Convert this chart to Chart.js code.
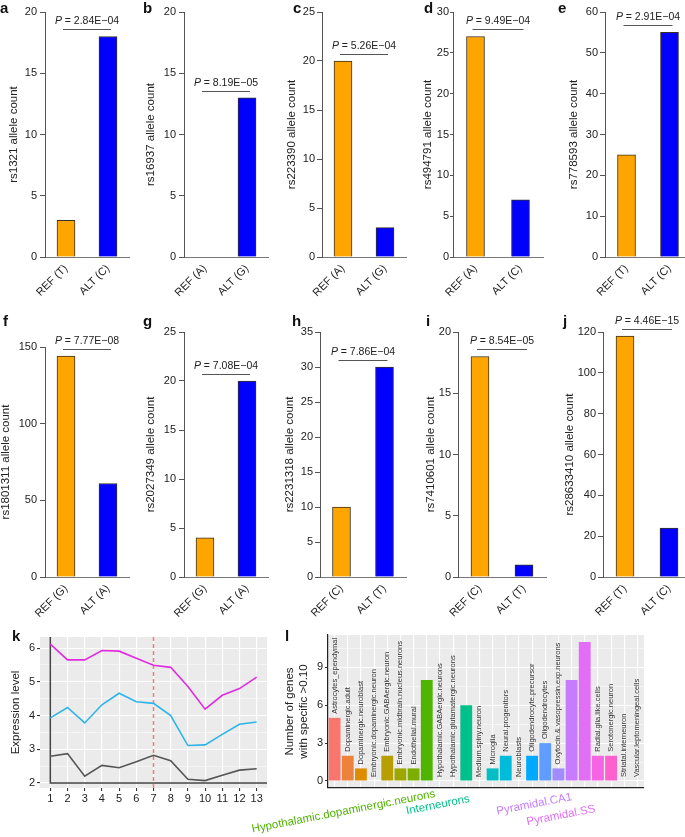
<!DOCTYPE html>
<html>
<head>
<meta charset="utf-8">
<script src="https://cdn.jsdelivr.net/npm/chart.js@4.4.1/dist/chart.umd.min.js"></script>
<style>
  html, body { margin: 0; padding: 0; background: #fff; overflow: hidden; width: 685px; height: 837px; }
  body { position: relative; }
  canvas { position: absolute; }
  .lt { position: absolute; font: bold 15px 'Liberation Sans', Arial, sans-serif; line-height: 15px; color: #111; }
</style>
</head>
<body>
<script>
// ---- data: panels a-j (allele counts) ----
const snpIds = ['rs1321', 'rs16937', 'rs223390', 'rs494791', 'rs778593',
                'rs1801311', 'rs2027349', 'rs2231318', 'rs7410601', 'rs28633410'];
const refLabels = ['REF (T)', 'REF (A)', 'REF (A)', 'REF (A)', 'REF (T)',
                   'REF (G)', 'REF (G)', 'REF (C)', 'REF (C)', 'REF (T)'];
const altLabels = ['ALT (C)', 'ALT (G)', 'ALT (G)', 'ALT (C)', 'ALT (C)',
                   'ALT (A)', 'ALT (A)', 'ALT (T)', 'ALT (T)', 'ALT (C)'];
const refCounts = [3, 0, 20, 27, 25, 144, 4, 10, 18, 118];
const altCounts = [18, 13, 3, 7, 55, 61, 20, 30, 1, 24];
const pValues = ['2.84E\u221204', '8.19E\u221205', '5.26E\u221204', '9.49E\u221204', '2.91E\u221204',
                 '7.77E\u221208', '7.08E\u221204', '7.86E\u221204', '8.54E\u221205', '4.46E\u221215'];
const yTickMax = [20, 20, 25, 30, 60, 150, 25, 35, 20, 120];
const yTickStep = [5, 5, 5, 5, 10, 50, 5, 5, 5, 20];

// ---- data: panel k (expression) ----
const timePoints = [1, 2, 3, 4, 5, 6, 7, 8, 9, 10, 11, 12, 13];
const exprMagenta = [6.12, 5.65, 5.65, 5.93, 5.91, 5.70, 5.49, 5.43, 4.86, 4.19, 4.60, 4.80, 5.14];
const exprCyan = [3.93, 4.24, 3.78, 4.32, 4.66, 4.41, 4.36, 4.00, 3.11, 3.13, 3.44, 3.74, 3.81];
const exprGray = [2.79, 2.87, 2.20, 2.52, 2.45, 2.63, 2.82, 2.66, 2.11, 2.07, 2.23, 2.38, 2.42];
const markedTime = 7;

// ---- data: panel l (cell types) ----
const cellTypes = [
  'Astrocytes_ependymal', 'Dopaminergic.adult', 'Dopaminergic.neuroblast', 'Embryonic.dopaminergic.neuron',
  'Embryonic.GABAergic.neuron', 'Embryonic.midbrain.nucleus.neurons', 'Endothelial.mural',
  'Hypothalamic.dopaminergic.neurons', 'Hypothalamic.GABAergic.neurons', 'Hypothalamic.glutamatergic.neurons',
  'Interneurons', 'Medium.spiny.neuron', 'Microglia', 'Neural.progenitors', 'Neuroblasts',
  'Oligodendrocyte.precursor', 'Oligodendrocytes', 'Oxytocin.&.vasopressin.exp.neurons',
  'Pyramidal.CA1', 'Pyramidal.SS', 'Radial.glia.like.cells', 'Serotonergic.neuron',
  'Striatal.interneuron', 'Vascular.leptomeningeal.cells'
];
const geneCounts = [5, 2, 1, 0, 2, 1, 1, 8, 0, 0, 6, 0, 1, 2, 0, 2, 3, 1, 8, 11, 2, 2, 0, 0];
const highlightedTypes = ['Hypothalamic.dopaminergic.neurons', 'Interneurons', 'Pyramidal.CA1', 'Pyramidal.SS'];

// ---- styling / layout ----
const FONT = "'Liberation Sans', Arial, sans-serif";
Chart.defaults.font.family = FONT;
Chart.defaults.color = '#222';

const cellPalette = ['#F8766D', '#EC823C', '#DE8C00', '#CD9600', '#B79F00', '#9DA700', '#7CAE00', '#4FB400',
                     '#00BA38', '#00BE67', '#00C08B', '#00C1A7', '#00BFC4', '#00BBDA', '#00B4F0', '#00A9FF',
                     '#619CFF', '#9F8CFF', '#C77CFF', '#E36EF6', '#F564E3', '#FF61CC', '#FF64B0', '#FF6C91'];

const barLayout = [
  { axisX: 45,  row: 0, areaW: 84, titleGap: 31, tickPad: 3, letter: 'a', letterX: 0 },
  { axisX: 184, row: 0, areaW: 84, titleGap: 33, tickPad: 3, letter: 'b', letterX: 143 },
  { axisX: 322, row: 0, areaW: 84, titleGap: 30, tickPad: 2, letter: 'c', letterX: 293 },
  { axisX: 453, row: 0, areaW: 90, titleGap: 25, tickPad: 1, letter: 'd', letterX: 424 },
  { axisX: 605, row: 0, areaW: 86, titleGap: 31, tickPad: 2, letter: 'e', letterX: 558 },
  { axisX: 45,  row: 1, areaW: 84, titleGap: 39, tickPad: 3, letter: 'f', letterX: 3, areaTop: 347 },
  { axisX: 184, row: 1, areaW: 84, titleGap: 33, tickPad: 3, letter: 'g', letterX: 143 },
  { axisX: 320, row: 1, areaW: 86, titleGap: 30, tickPad: 2, letter: 'h', letterX: 292 },
  { axisX: 458, row: 1, areaW: 88, titleGap: 27, tickPad: 2, letter: 'i', letterX: 426 },
  { axisX: 603, row: 1, areaW: 88, titleGap: 33, tickPad: 2, letter: 'j', letterX: 563 }
];
const rows = [
  { top: 0, height: 300, areaTop: 12, areaBottom: 257, letterBase: 12 },
  { top: 300, height: 320, areaTop: 332, areaBottom: 577, letterBase: 325 }
];

function addCanvas(left, top, w, h) {
  const c = document.createElement('canvas');
  c.width = w; c.height = h;
  c.style.left = left + 'px'; c.style.top = top + 'px';
  document.body.appendChild(c);
  return c;
}

function addLetter(txt, x, baseline) {
  const d = document.createElement('div');
  d.className = 'lt';
  d.textContent = txt;
  d.style.left = x + 'px';
  d.style.top = (baseline - 12.5) + 'px';
  document.body.appendChild(d);
}

// P-value bracket above the two bars
const pNote = {
  id: 'pNote',
  afterDatasetsDraw(chart, args, opts) {
    const { ctx } = chart;
    const meta = chart.getDatasetMeta(0);
    const vals = chart.data.datasets[0].data;
    const ly = Math.round(chart.scales.y.getPixelForValue(Math.max(...vals)) - 7) + 0.5;
    const x1 = meta.data[0].x - 3, x2 = meta.data[1].x + 3;
    ctx.save();
    ctx.strokeStyle = '#555';
    ctx.lineWidth = 1.2;
    ctx.beginPath(); ctx.moveTo(x1, ly); ctx.lineTo(x2, ly); ctx.stroke();
    const rest = ' = ' + opts.text;
    ctx.font = 'italic 10.5px ' + FONT;
    const wP = ctx.measureText('P').width;
    ctx.font = '10.5px ' + FONT;
    const wR = ctx.measureText(rest).width;
    const sx = (x1 + x2) / 2 - (wP + wR) / 2;
    ctx.fillStyle = '#222';
    ctx.textBaseline = 'alphabetic';
    ctx.textAlign = 'left';
    ctx.font = 'italic 10.5px ' + FONT;
    ctx.fillText('P', sx, ly - 6);
    ctx.font = '10.5px ' + FONT;
    ctx.fillText(rest, sx + wP, ly - 6);
    ctx.restore();
  }
};

barLayout.forEach((L, i) => {
  const R = rows[L.row];
  const areaTop = L.areaTop || R.areaTop;
  const left = L.axisX - 45;
  const w = 45 + L.areaW + 6;
  const cv = addCanvas(left, R.top, w, R.height);
  addLetter(L.letter, L.letterX, R.letterBase);
  new Chart(cv, {
    type: 'bar',
    data: {
      labels: [refLabels[i], altLabels[i]],
      datasets: [{
        data: [refCounts[i], altCounts[i]],
        backgroundColor: ['#FFA500', '#0000FF'],
        borderColor: '#3a3020',
        borderWidth: 1,
        borderSkipped: 'start',
        barThickness: 18
      }]
    },
    options: {
      responsive: false,
      animation: false,
      devicePixelRatio: 1,
      layout: { padding: { top: areaTop - R.top, right: 6, left: 0, bottom: 0 } },
      plugins: { legend: { display: false }, tooltip: { enabled: false }, pNote: { text: pValues[i] } },
      scales: {
        x: {
          grid: { display: false, drawTicks: false },
          border: { color: '#777', width: 1 },
          ticks: { minRotation: 45, maxRotation: 45, autoSkip: false, font: { size: 11 }, color: '#222', padding: 5 },
          afterFit: s => { s.height = R.height - (R.areaBottom - R.top); }
        },
        y: {
          min: 0,
          max: yTickMax[i],
          ticks: { stepSize: yTickStep[i], font: { size: 11 }, color: '#222', padding: L.tickPad },
          grid: { drawOnChartArea: false, tickLength: L.tickPad > 1 ? 5 : 3, color: '#555' },
          border: { color: '#555', width: 1 },
          title: {
            display: true,
            text: snpIds[i] + ' allele count',
            font: { size: 11.5 },
            color: '#222',
            padding: { top: 45 - L.titleGap - 6.9, bottom: 0 }
          },
          afterFit: s => { s.width = 45; }
        }
      }
    },
    plugins: [pNote]
  });
});

// ---- panel k ----
const panelBg = {
  id: 'panelBg',
  beforeDraw(chart) {
    const { ctx, chartArea: a } = chart;
    ctx.save();
    ctx.fillStyle = '#EBEBEB';
    ctx.fillRect(a.left, a.top, a.width, a.height);
    ctx.restore();
  }
};

const kMarks = {
  id: 'kMarks',
  beforeDatasetsDraw(chart) {
    const { ctx, chartArea: a, scales: { x, y } } = chart;
    ctx.save();
    // dashed marker
    const mx = x.getPixelForValue(markedTime);
    ctx.strokeStyle = '#E8807A';
    ctx.lineWidth = 1.5;
    ctx.setLineDash([4, 3]);
    ctx.beginPath(); ctx.moveTo(mx, a.top); ctx.lineTo(mx, a.bottom); ctx.stroke();
    // L-shaped axis lines at x = 1, y = 2
    ctx.setLineDash([]);
    const x0 = x.getPixelForValue(timePoints[0]);
    const y0 = y.getPixelForValue(2);
    ctx.strokeStyle = '#444';
    ctx.lineWidth = 1.5;
    ctx.beginPath();
    ctx.moveTo(x0, a.top); ctx.lineTo(x0, y0); ctx.lineTo(a.right, y0);
    ctx.stroke();
    ctx.restore();
  }
};

const kCanvas = addCanvas(0, 620, 275, 217);
addLetter('k', 12, 640);
const toPts = arr => timePoints.map((t, j) => ({ x: t, y: arr[j] }));
new Chart(kCanvas, {
  type: 'line',
  data: {
    datasets: [
      { data: toPts(exprGray), borderColor: '#555555', borderWidth: 1.6, pointRadius: 0, tension: 0 },
      { data: toPts(exprCyan), borderColor: '#2CB5E8', borderWidth: 1.6, pointRadius: 0, tension: 0 },
      { data: toPts(exprMagenta), borderColor: '#E02BE0', borderWidth: 1.6, pointRadius: 0, tension: 0 }
    ]
  },
  options: {
    responsive: false,
    animation: false,
    devicePixelRatio: 1,
    layout: { padding: { top: 17, right: 8, left: 0, bottom: 0 } },
    plugins: { legend: { display: false }, tooltip: { enabled: false } },
    scales: {
      x: {
        type: 'linear',
        min: 0.4,
        max: 13.6,
        ticks: { stepSize: 1, includeBounds: false, autoSkip: false, maxRotation: 0, font: { size: 11 }, color: '#222', padding: 1 },
        grid: { color: '#fff', lineWidth: 1.1, tickLength: 3, tickColor: '#333' },
        border: { display: false },
        afterFit: s => { s.height = 49; }
      },
      y: {
        min: 1.85,
        max: 6.33,
        ticks: {
          stepSize: 0.5, includeBounds: false, autoSkip: false, font: { size: 11 }, color: '#222', padding: 2,
          callback: v => (Number.isInteger(v) ? v : '')
        },
        grid: {
          color: '#fff',
          lineWidth: c => (Number.isInteger(c.tick.value) ? 1.1 : 0.5),
          tickLength: 3,
          tickColor: c => (Number.isInteger(c.tick.value) ? '#333' : 'rgba(0,0,0,0)')
        },
        border: { display: false },
        title: { display: true, text: 'Expression level', font: { size: 11.5 }, color: '#222', padding: { top: 9, bottom: 0 } },
        afterFit: s => { s.width = 40; }
      }
    }
  },
  plugins: [panelBg, kMarks]
});

// ---- panel l ----
// right-end baseline offsets of the coloured callouts, relative to bar centre / panel bottom
const calloutOffset = [[9, 9], [4, 14], [1, 12], [11, 24]];
const calloutAngle = -11 * Math.PI / 180;
const lLabels = {
  id: 'lLabels',
  afterDatasetsDraw(chart) {
    const { ctx, scales: { x, y }, chartArea: a } = chart;
    ctx.save();
    ctx.fillStyle = '#333';
    ctx.font = '7.5px ' + FONT;
    ctx.textAlign = 'left';
    ctx.textBaseline = 'middle';
    cellTypes.forEach((name, i) => {
      if (highlightedTypes.includes(name)) return;
      const px = x.getPixelForValue(i);
      const py = y.getPixelForValue(geneCounts[i]) - 4;
      ctx.save();
      ctx.translate(px, py);
      ctx.rotate(-Math.PI / 2);
      ctx.fillText(name, 0, 0);
      ctx.restore();
    });
    // coloured callouts below the panel
    ctx.font = '11.5px ' + FONT;
    ctx.textAlign = 'right';
    ctx.textBaseline = 'alphabetic';
    highlightedTypes.forEach((name, k) => {
      const i = cellTypes.indexOf(name);
      const px = x.getPixelForValue(i) + calloutOffset[k][0];
      const py = a.bottom + calloutOffset[k][1];
      ctx.save();
      ctx.translate(px, py);
      ctx.rotate(calloutAngle);
      ctx.fillStyle = cellPalette[i];
      ctx.fillText(name, 0, 0);
      ctx.restore();
    });
    ctx.restore();
  }
};

const lCanvas = addCanvas(240, 620, 420, 217);
addLetter('l', 285, 640);
new Chart(lCanvas, {
  type: 'bar',
  data: {
    labels: cellTypes,
    datasets: [{
      data: geneCounts,
      backgroundColor: cellPalette,
      barPercentage: 0.9,
      categoryPercentage: 1
    }]
  },
  options: {
    responsive: false,
    animation: false,
    devicePixelRatio: 1,
    layout: { padding: { top: 15, right: 16, left: 0, bottom: 0 } },
    plugins: { legend: { display: false }, tooltip: { enabled: false } },
    scales: {
      x: {
        ticks: { display: false },
        grid: { color: '#fff', lineWidth: 1.1, offset: false, drawTicks: false },
        border: { color: '#222', width: 1.2 },
        afterFit: s => { s.height = 49; }
      },
      y: {
        min: -0.55,
        max: 11.55,
        ticks: {
          stepSize: 1.5, includeBounds: false, autoSkip: false, font: { size: 11 }, color: '#222', padding: 2,
          callback: v => (v % 3 === 0 ? v : '')
        },
        grid: {
          color: '#fff',
          lineWidth: c => (c.tick.value % 3 === 0 ? 1.1 : 0.5),
          tickLength: 3,
          tickColor: c => (c.tick.value % 3 === 0 ? '#333' : 'rgba(0,0,0,0)')
        },
        border: { color: '#222', width: 1.2 },
        title: {
          display: true,
          text: ['Number of genes', 'with specific >0.10'],
          font: { size: 11.5 },
          color: '#222',
          padding: { top: 43, bottom: 0 }
        },
        afterFit: s => { s.width = 88; }
      }
    }
  },
  plugins: [panelBg, lLabels]
});
</script>
</body>
</html>
